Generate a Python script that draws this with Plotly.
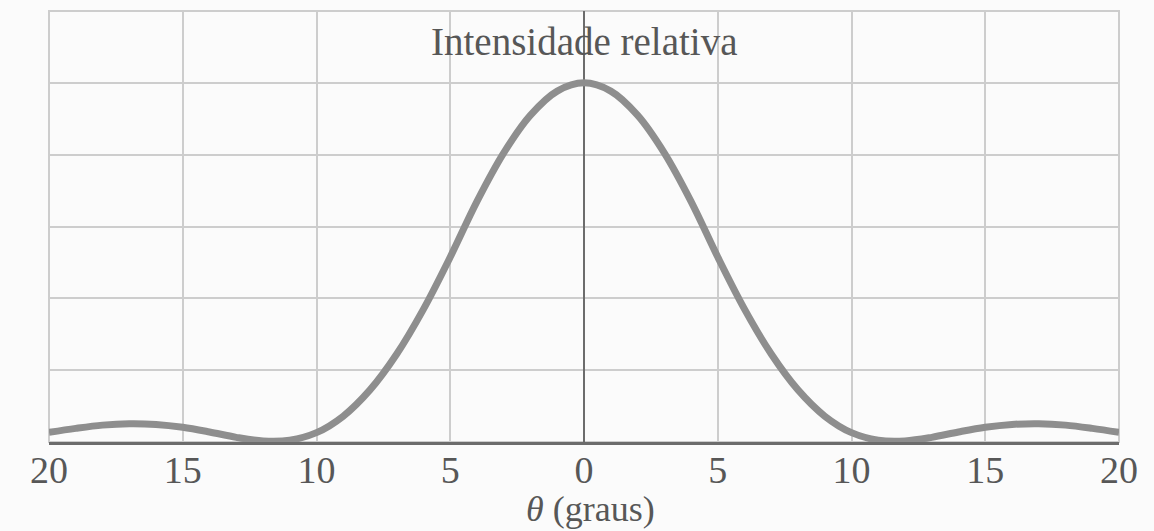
import plotly.graph_objects as go

# Relative intensity of a single-slit diffraction pattern vs. angle (degrees)
theta_deg = [-20, -19, -18, -17, -16, -15, -14, -13, -12, -11, -10, -9, -8, -7, -6, -5, -4, -3, -2, -1,
             0, 1, 2, 3, 4, 5, 6, 7, 8, 9, 10, 11, 12, 13, 14, 15, 16, 17, 18, 19, 20]
intensity = [0.027, 0.038, 0.047, 0.051, 0.049, 0.041, 0.028, 0.013, 0.003, 0.005, 0.026, 0.072,
             0.145, 0.245, 0.370, 0.515, 0.670, 0.805, 0.910, 0.977,
             1.000,
             0.977, 0.910, 0.805, 0.670, 0.515, 0.370, 0.245, 0.145, 0.072, 0.026, 0.005, 0.003, 0.013,
             0.028, 0.041, 0.049, 0.051, 0.047, 0.038, 0.027]

tick_vals = [-20, -15, -10, -5, 0, 5, 10, 15, 20]
tick_text = ["20", "15", "10", "5", "0", "5", "10", "15", "20"]
y_grid = [0, 0.2, 0.4, 0.6, 0.8, 1.0, 1.2]

GRID = "#cdcdcd"
AXIS = "#6c6c6c"
CURVE = "#8e8e8e"
TEXT = "#575757"
BG = "#fbfbfb"
SERIF = "Liberation Serif"

fig = go.Figure()
fig.add_trace(go.Scatter(
    x=theta_deg, y=intensity, mode="lines",
    line=dict(color=CURVE, width=7, shape="spline", smoothing=1.0),
    hoverinfo="skip", showlegend=False,
))

fig.update_xaxes(
    range=[-20, 20], tickmode="array", tickvals=tick_vals, ticktext=tick_text,
    showgrid=True, gridcolor=GRID, gridwidth=2,
    zeroline=True, zerolinecolor=AXIS, zerolinewidth=2,
    showline=True, linecolor=AXIS, linewidth=3,
    ticks="", ticklabelstandoff=-8,
    tickfont=dict(family=SERIF, size=38, color=TEXT),
)
fig.update_yaxes(
    range=[0, 1.2], tickmode="array", tickvals=y_grid,
    showticklabels=False, showgrid=True, gridcolor=GRID, gridwidth=2,
    zeroline=False, showline=False, ticks="",
)

# light frame around the plotting area
fig.add_shape(type="rect", xref="paper", yref="paper", x0=0, y0=0, x1=1, y1=1,
              line=dict(color=GRID, width=2), layer="below")

fig.add_annotation(x=0, y=1.115, xref="x", yref="y", text="Intensidade relativa",
                   showarrow=False, xanchor="center", yanchor="middle",
                   font=dict(family=SERIF, size=39, color=TEXT))
fig.add_annotation(x=0, y=-0.155, xref="x", yref="paper", text="<i>θ</i> (graus)",
                   showarrow=False, xanchor="center", yanchor="middle", xshift=6,
                   font=dict(family=SERIF, size=36, color=TEXT))

fig.update_layout(
    width=1154, height=531,
    margin=dict(l=49, r=35, t=11, b=89),
    paper_bgcolor=BG, plot_bgcolor=BG,
)

fig.write_html("out.html")
